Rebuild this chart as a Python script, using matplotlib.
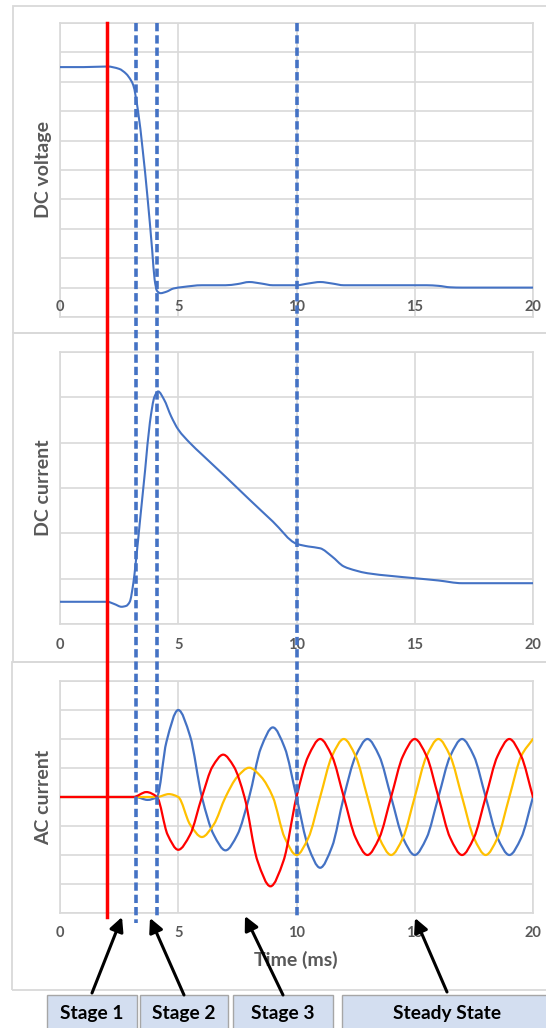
import numpy as np
import matplotlib
matplotlib.use('Agg')
import matplotlib.pyplot as plt
from matplotlib.path import Path
from matplotlib.patches import PathPatch, Rectangle, FancyArrowPatch
from matplotlib.lines import Line2D
from matplotlib.transforms import blended_transform_factory

plt.rcParams['font.family'] = ['Lato', 'DejaVu Sans']

# x axis (ms)
xticks = [0, 5, 10, 15, 20]

# DC voltage
dcv_t = [0, 1, 2, 2.5, 2.8, 3.0, 3.1, 3.3, 3.5, 3.7, 3.9, 4.0, 4.1, 4.25, 4.5, 4.8, 5.2,
         6, 7, 7.5, 8, 8.5, 9, 10, 10.5, 11, 11.5, 12, 15.5, 16, 16.5, 17, 20]
dcv = [7.5, 7.5, 7.52, 7.44, 7.27, 7.05, 6.88, 6.0, 4.66, 3.07, 1.25, 0.28, -0.11, -0.19, -0.14, -0.03, 0.02,
       0.08, 0.08, 0.12, 0.19, 0.14, 0.08, 0.08, 0.14, 0.19, 0.14, 0.08, 0.08, 0.06, 0.01, 0, 0]

# DC current
dci_t = [0, 2.0, 2.3, 2.6, 2.8, 2.95, 3.1, 3.2, 3.4, 3.6, 3.8, 4.0, 4.15, 4.4, 4.7, 5.0, 5.5,
         6, 7, 8, 9, 10, 10.5, 11, 11.5, 12, 12.5, 13, 14, 15, 16, 17, 18, 20]
dci = [0.49, 0.49, 0.44, 0.38, 0.40, 0.49, 0.9, 1.34, 2.37, 3.4, 4.44, 5.02, 5.13, 4.95, 4.58, 4.29, 3.99,
       3.74, 3.25, 2.75, 2.26, 1.77, 1.71, 1.67, 1.49, 1.27, 1.18, 1.12, 1.06, 1.01, 0.96, 0.90, 0.90, 0.90]

# AC currents (three phases)
blue_t = [0, 3.2, 3.7, 4.1, 4.5, 5.0, 5.5, 6.0, 6.5, 7.0, 7.5, 8.0, 8.5, 9.0, 9.5, 10.0, 10.5, 11.0,
          11.5, 12.0, 12.5, 13.0, 13.5, 14.0, 14.5, 15.0, 15.5, 16.0, 16.5, 17.0, 17.5, 18.0, 18.5,
          19.0, 19.5, 20.0]
blue = [0, 0, -0.1, 0, 1.9, 3.0, 2.1, 0, -1.3, -1.84, -1.3, 0, 1.7, 2.4, 1.7, 0, -1.72, -2.44,
        -1.72, 0, 1.41, 2, 1.41, 0, -1.41, -2, -1.41, 0, 1.41, 2, 1.41, 0, -1.41,
        -2, -1.41, 0]

red_t = [0, 3.1, 3.65, 4.1, 4.55, 5.0, 5.5, 6.0, 6.45, 6.9, 7.35, 7.8, 8.35, 8.9, 9.45, 10.0,
         10.5, 11, 11.5, 12, 12.5, 13, 13.5, 14, 14.5, 15, 15.5, 16, 16.5, 17, 17.5, 18, 18.5, 19,
         19.5, 20]
red = [0, 0, 0.17, 0, -1.3, -1.82, -1.3, 0, 1.05, 1.46, 1.05, 0, -2.2, -3.08, -2.2, 0,
       1.41, 2, 1.41, 0, -1.41, -2, -1.41, 0, 1.41, 2, 1.41, 0, -1.41, -2, -1.41, 0, 1.41, 2,
       1.41, 0]

yel_t = [0, 4.1, 4.6, 5.0, 5.5, 6.0, 6.5, 7.0, 7.5, 8.0, 8.5, 9.0, 9.5, 10.0,
         10.5, 11, 11.5, 12, 12.5, 13, 13.5, 14, 14.5, 15, 15.5, 16, 16.5, 17, 17.5, 18, 18.5, 19,
         19.5, 20]
yel = [0, 0, 0.1, 0.0, -0.95, -1.38, -0.95, 0, 0.7, 1.01, 0.7, 0, -1.4, -2.0,
       -1.41, 0, 1.41, 2, 1.41, 0, -1.41, -2, -1.41, 0, 1.41, 2, 1.41, 0, -1.41, -2, -1.41, 0,
       1.41, 2]

# event markers (ms)
fault_t = 2.0
stage_t = [3.2, 4.1, 10.0]

stages = ['Stage 1', 'Stage 2', 'Stage 3', 'Steady State']

BLUE = '#4472C4'
RED = '#FF0000'
YELLOW = '#FFC000'
GRID = '#D9D9D9'
TXT = '#595959'

W, H = 546, 1028


def fx(x):
    return x / W


def fy(y):
    return 1 - y / H


def smooth(ax, x, y, color, lw):
    # excel-like smoothed line: cubic segments with monotone tangents
    x = np.asarray(x, float)
    y = np.asarray(y, float)
    h = np.diff(x)
    d = np.diff(y) / h
    m = np.zeros_like(y)
    m[0], m[-1] = d[0], d[-1]
    for i in range(1, len(y) - 1):
        if d[i - 1] * d[i] > 0:
            w1 = 2 * h[i] + h[i - 1]
            w2 = h[i] + 2 * h[i - 1]
            m[i] = (w1 + w2) / (w1 / d[i - 1] + w2 / d[i])
    verts = [(x[0], y[0])]
    codes = [Path.MOVETO]
    for i in range(len(h)):
        verts += [(x[i] + h[i] / 3, y[i] + m[i] * h[i] / 3),
                  (x[i + 1] - h[i] / 3, y[i + 1] - m[i + 1] * h[i] / 3),
                  (x[i + 1], y[i + 1])]
        codes += [Path.CURVE4] * 3
    ax.add_patch(PathPatch(Path(verts, codes), fill=False, ec=color, lw=lw,
                           capstyle='round', joinstyle='round', zorder=3))


fig = plt.figure(figsize=(W / 100, H / 100), dpi=100)

# chart area frames
for top, bot, left in [(6, 333, 13), (333, 662, 13), (662, 990, 12)]:
    fig.add_artist(Rectangle((fx(left), fy(bot)), fx(W + 20 - left), (bot - top) / H,
                             transform=fig.transFigure, fill=False, ec=GRID, lw=1.3, zorder=-1))

ax1 = fig.add_axes([fx(60), fy(317), 473 / W, 294 / H])
ax2 = fig.add_axes([fx(60), fy(624), 473 / W, 272 / H])
ax3 = fig.add_axes([fx(60), fy(913), 473 / W, 232 / H])

for ax, (lo, hi), lab in [(ax1, (-1, 9), 'DC voltage'), (ax2, (0, 6), 'DC current'),
                          (ax3, (-4, 4), 'AC current')]:
    ax.set_xlim(0, 20)
    ax.set_ylim(lo, hi)
    ax.set_xticks(xticks)
    ax.set_yticks(range(lo, hi + 1))
    ax.grid(True, color=GRID, lw=1.2)
    ax.set_axisbelow(True)
    ax.tick_params(length=0, labelbottom=False, labelleft=False)
    for s in ax.spines.values():
        s.set_color(GRID)
        s.set_linewidth(1.2)
    ax.text(-0.034, 0.5, lab, transform=ax.transAxes, rotation=90, ha='center', va='center',
            fontsize=14, fontweight='bold', color=TXT)

# tick labels
for t in xticks:
    ax1.annotate(str(t), (t, -1), xytext=(0, 7.2), textcoords='offset points',
                 ha='center', va='center', fontsize=10.5, fontweight='bold', color=TXT)
    ax2.annotate(str(t), (t, 0), xytext=(0, -15), textcoords='offset points',
                 ha='center', va='center', fontsize=10.5, fontweight='bold', color=TXT)
    ax3.annotate(str(t), (t, -4), xytext=(0, -14.4), textcoords='offset points',
                 ha='center', va='center', fontsize=10.5, fontweight='bold', color=TXT)

smooth(ax1, dcv_t, dcv, BLUE, 1.5)
smooth(ax2, dci_t, dci, BLUE, 1.5)
smooth(ax3, blue_t, blue, BLUE, 1.6)
smooth(ax3, yel_t, yel, YELLOW, 1.6)
smooth(ax3, red_t, red, RED, 1.6)

fig.text(fx(296), fy(960), 'Time (ms)', ha='center', va='center', fontsize=14,
         fontweight='bold', color=TXT)

# fault and stage boundary lines across all charts
tr = blended_transform_factory(ax3.transData, fig.transFigure)
fig.add_artist(Line2D([fault_t, fault_t], [fy(23), fy(917)], transform=tr, color=RED, lw=2.5,
                      zorder=5))
for t, yb in zip(stage_t, [923, 917, 917]):
    fig.add_artist(Line2D([t, t], [fy(23), fy(yb)], transform=tr, color=BLUE, lw=2.6,
                          linestyle=(0, (2.3, 1.1)), zorder=5))

# stage boxes
boxes = [(47, 137), (140, 228), (233, 333), (342, 560)]
text_x = [92, 184, 283, 447]
for (x0, x1), tx, s in zip(boxes, text_x, stages):
    fig.add_artist(Rectangle((fx(x0), fy(1035)), (x1 - x0) / W, 40 / H, transform=fig.transFigure,
                             fc='#D3DEF0', ec='#A6A6A6', lw=1.0, zorder=4))
    fig.text(fx(tx), fy(1013), s, ha='center', va='center', fontsize=13.8, fontweight='bold',
             color='black', zorder=6)

arrows = [((92, 993), (122, 917)), ((184, 995), (150, 918)), ((283, 995), (245, 916)),
          ((447, 992), (415, 918))]
for (xa, ya), (xb, yb) in arrows:
    fig.add_artist(FancyArrowPatch((fx(xa), fy(ya)), (fx(xb), fy(yb)), transform=fig.transFigure,
                                   arrowstyle='-|>,head_length=0.6,head_width=0.3',
                                   mutation_scale=14, lw=2.2, color='black',
                                   shrinkA=0, shrinkB=0, zorder=7))

fig.savefig('out.png', dpi=100)
